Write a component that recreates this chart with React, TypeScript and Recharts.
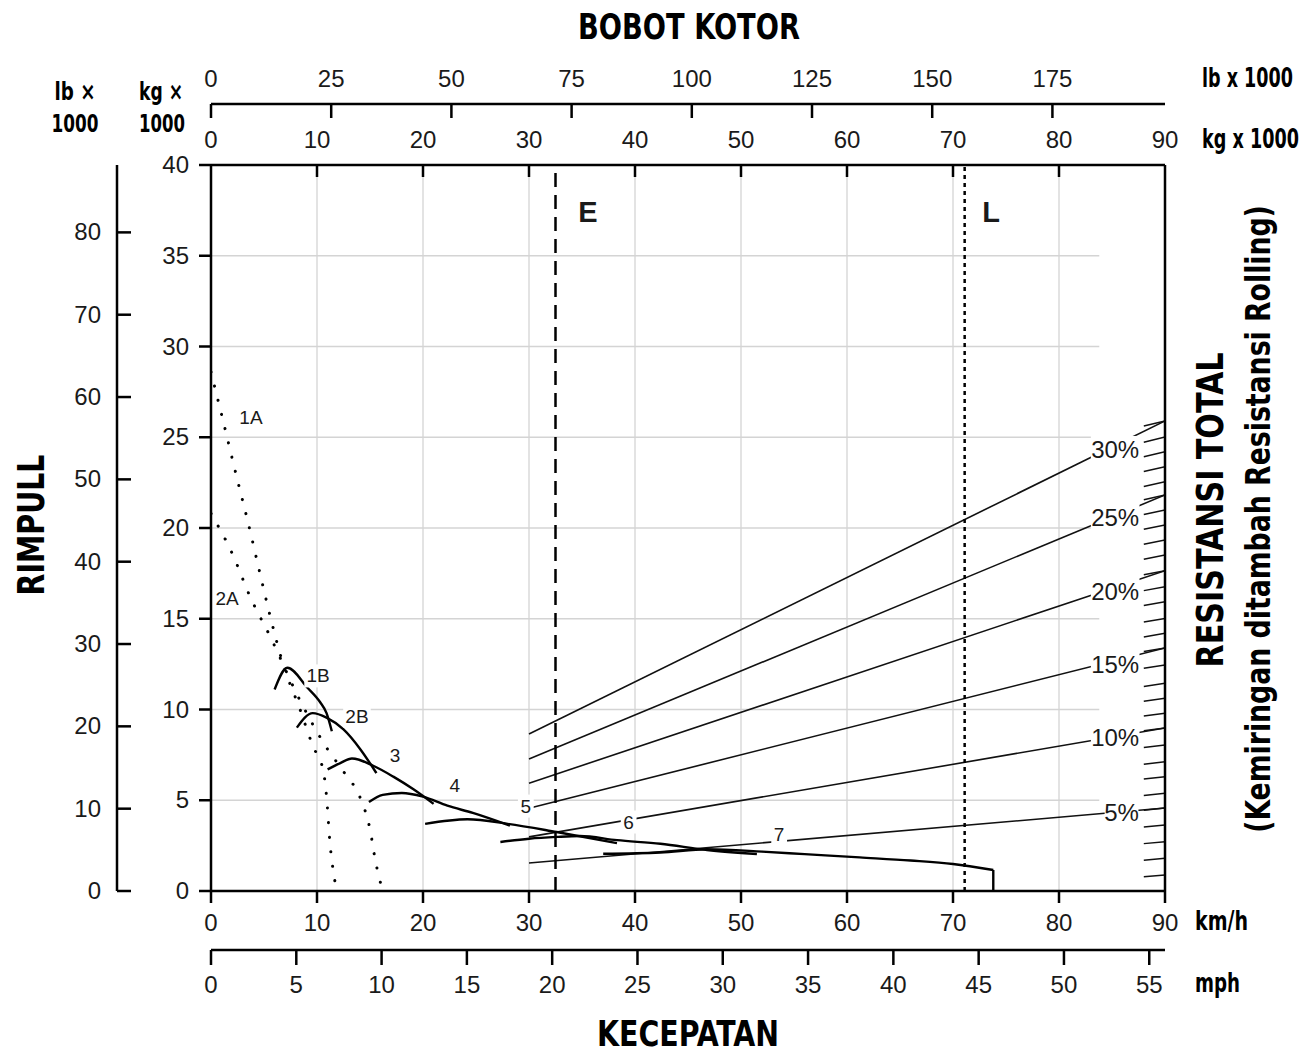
import React, { useLayoutEffect, useRef, useState } from 'react';
import { ComposedChart, Line, XAxis, YAxis, CartesianGrid, ReferenceLine, Scatter } from 'recharts';

// ---------- axis ticks ----------
const kmhTicks = [0, 10, 20, 30, 40, 50, 60, 70, 80, 90];
const mphTicks = [0, 5, 10, 15, 20, 25, 30, 35, 40, 45, 50, 55];
const kgTopTicks = [0, 10, 20, 30, 40, 50, 60, 70, 80, 90];
const lbTopTicks = [0, 25, 50, 75, 100, 125, 150, 175];
const kgTicks = [0, 5, 10, 15, 20, 25, 30, 35, 40];
const lbTicks = [0, 10, 20, 30, 40, 50, 60, 70, 80];
const gridYValues = [5, 10, 15, 20, 25, 30, 35];
const gridYEnd = 83.8;

// ---------- rimpull curves (x = km/h, y = kg x 1000) ----------
const gear1A = [
  { x: 0, y: 28.6 }, { x: 1.1, y: 26.0 }, { x: 2.45, y: 22.75 }, { x: 3.5, y: 20.3 },
  { x: 4.5, y: 17.8 }, { x: 5.6, y: 15.1 }, { x: 6.8, y: 12.5 }, { x: 8.4, y: 10.0 },
  { x: 9.6, y: 8.0 }, { x: 10.6, y: 6.6 }, { x: 10.9, y: 5.2 }, { x: 11.2, y: 2.8 },
  { x: 11.7, y: 0.5 },
];
const gear2A = [
  { x: 0, y: 20.8 }, { x: 2.0, y: 18.6 }, { x: 3.7, y: 16.2 }, { x: 5.6, y: 14.0 },
  { x: 8.4, y: 10.5 }, { x: 10.9, y: 7.9 }, { x: 12.6, y: 6.5 }, { x: 14.1, y: 5.1 },
  { x: 15.0, y: 3.4 }, { x: 15.5, y: 1.7 }, { x: 16.1, y: 0.2 },
];
const gear1B = [
  { x: 6.0, y: 11.1 }, { x: 7.2, y: 12.3 }, { x: 9.1, y: 11.2 }, { x: 10.3, y: 10.4 },
  { x: 10.9, y: 9.8 }, { x: 11.4, y: 8.8 },
];
const gear2B = [
  { x: 8.1, y: 9.0 }, { x: 9.6, y: 9.8 }, { x: 10.9, y: 9.55 }, { x: 12.5, y: 8.9 },
  { x: 14.1, y: 7.8 }, { x: 15.6, y: 6.5 },
];
const gear3 = [
  { x: 11.0, y: 6.7 }, { x: 12.2, y: 7.05 }, { x: 13.3, y: 7.3 }, { x: 15.3, y: 6.9 },
  { x: 17.2, y: 6.3 }, { x: 19.1, y: 5.6 }, { x: 21.0, y: 4.8 },
];
const gear4 = [
  { x: 14.9, y: 4.9 }, { x: 16.2, y: 5.3 }, { x: 18.0, y: 5.4 }, { x: 20.0, y: 5.2 },
  { x: 22.3, y: 4.7 }, { x: 24.7, y: 4.3 }, { x: 28.2, y: 3.6 },
];
const gear5 = [
  { x: 20.2, y: 3.7 }, { x: 24.2, y: 3.95 }, { x: 28.0, y: 3.7 }, { x: 32.6, y: 3.25 },
  { x: 38.3, y: 2.64 },
];
const gear6 = [
  { x: 27.3, y: 2.7 }, { x: 30.0, y: 2.88 }, { x: 32.6, y: 2.98 }, { x: 34.8, y: 3.03 },
  { x: 38.3, y: 2.8 }, { x: 42.4, y: 2.6 }, { x: 46.8, y: 2.26 }, { x: 51.5, y: 2.04 },
];
const gear7 = [
  { x: 37.0, y: 2.05 }, { x: 42.4, y: 2.12 }, { x: 46.8, y: 2.3 }, { x: 52.0, y: 2.17 },
  { x: 56.0, y: 2.03 }, { x: 61.2, y: 1.85 }, { x: 66.0, y: 1.68 }, { x: 70.0, y: 1.49 },
  { x: 73.8, y: 1.16 },
];
const gear7Drop = [{ x: 73.8, y: 1.16 }, { x: 73.8, y: 0 }];

// ---------- total resistance lines (x = gross weight kg x 1000) ----------
const gradePercents = [30, 25, 20, 15, 10, 5];
const gradeStartWeight = 30;
const gradeEndWeight = 90;
const gradeStartValues = [8.65, 7.27, 5.94, 4.56, 2.98, 1.54];
const gradeEndValues = [25.9, 21.82, 17.65, 13.39, 8.98, 4.57];

// small 1 % ticks on the right edge (from 88 to 90 kg x 1000)
const tickStartWeight = 88;
const tickEndWeight = 90;
const resTickStart = [
  0.78, 1.7, 2.61, 3.52, 4.45, 5.26, 6.17, 6.99, 7.9, 8.83,
  9.64, 10.46, 11.27, 12.27, 13.2, 14.0, 14.82, 15.73, 16.55, 17.43,
  18.28, 19.1, 19.93, 20.74, 21.56, 22.29, 23.11, 23.92, 24.73, 25.62,
];
const resTickEnd = [
  0.88, 1.8, 2.72, 3.64, 4.57, 5.38, 6.3, 7.12, 8.04, 8.98,
  9.79, 10.62, 11.44, 12.45, 13.39, 14.2, 15.02, 15.94, 16.77, 17.65,
  18.51, 19.34, 20.17, 20.99, 21.82, 22.55, 23.38, 24.2, 25.01, 25.9,
];

// ---------- labels ----------
const gearLabels = [
  { x: 3.77, y: 26.1, text: '1A' },
  { x: 1.51, y: 16.14, text: '2A' },
  { x: 10.1, y: 11.85, text: '1B' },
  { x: 13.77, y: 9.64, text: '2B' },
  { x: 17.36, y: 7.44, text: '3' },
  { x: 23.0, y: 5.79, text: '4' },
  { x: 29.7, y: 4.68, text: '5' },
  { x: 39.4, y: 3.8, text: '6' },
  { x: 53.6, y: 3.09, text: '7' },
];
const gradeLabels = [
  { x: 85.3, y: 24.3, text: '30%' },
  { x: 85.3, y: 20.6, text: '25%' },
  { x: 85.3, y: 16.52, text: '20%' },
  { x: 85.3, y: 12.5, text: '15%' },
  { x: 85.3, y: 8.43, text: '10%' },
  { x: 85.9, y: 4.35, text: '5%' },
];
const markerLines = [
  { x: 32.5, name: 'E' },
  { x: 71.1, name: 'L' },
];
const markerLabels = [
  { x: 35.57, y: 37.4, text: 'E' },
  { x: 73.6, y: 37.4, text: 'L' },
];

const KMH_PER_MPH = 1.609344;
const LB_PER_KG = 2.20462;
const mphMax = 90 / KMH_PER_MPH;
const lbTopMax = 90 * LB_PER_KG;

// invisible anchors so the secondary axes get their scale
const mphAnchor = [{ x: 0, y: 0 }, { x: mphMax, y: 0 }];
const kgTopAnchor = [{ x: 0, y: 0 }, { x: 90, y: 0 }];
const lbTopAnchor = [{ x: 0, y: 0 }, { x: lbTopMax, y: 0 }];

const TICK_FONT = "'Liberation Sans', Arial, Helvetica, sans-serif";
const BOLD_NARROW = "'Liberation Sans Narrow', 'DejaVu Sans Condensed', 'Roboto Condensed', 'Liberation Sans', sans-serif";
const tickStyle: React.CSSProperties = { fontFamily: TICK_FONT, fontSize: 24, fill: '#1a1a1a' };
const AX = { stroke: '#000', strokeWidth: 2.5 };

const KmhTick = (p: any) => (
  <g>
    <line x1={p.x} y1={p.y} x2={p.x} y2={p.y + 12} stroke="#000" strokeWidth={2.5} />
    <text x={p.x} y={p.y + 40} textAnchor="middle" style={tickStyle}>{p.payload.value}</text>
  </g>
);
const MphTick = (p: any) => (
  <g>
    <line x1={p.x} y1={p.y} x2={p.x} y2={p.y + 15} stroke="#000" strokeWidth={2.5} />
    <text x={p.x} y={p.y + 43} textAnchor="middle" style={tickStyle}>{p.payload.value}</text>
  </g>
);
const KgTopTick = (p: any) => (
  <g>
    {p.payload.value > 0 && p.payload.value < 90 ? (
      <line x1={p.x} y1={p.y} x2={p.x} y2={p.y + 12} stroke="#000" strokeWidth={2.5} />
    ) : null}
    <text x={p.x} y={p.y - 17} textAnchor="middle" style={tickStyle}>{p.payload.value}</text>
  </g>
);
const LbTopTick = (p: any) => (
  <g>
    <line x1={p.x} y1={p.y} x2={p.x} y2={p.y + 14} stroke="#000" strokeWidth={2.5} />
    <text x={p.x} y={p.y - 17} textAnchor="middle" style={tickStyle}>{p.payload.value}</text>
  </g>
);
const KgLeftTick = (p: any) => (
  <g>
    <line x1={p.x - 12} y1={p.y} x2={p.x} y2={p.y} stroke="#000" strokeWidth={2.5} />
    <text x={p.x - 22} y={p.y + 8} textAnchor="end" style={tickStyle}>{p.payload.value}</text>
  </g>
);
const LbLeftTick = (p: any) => (
  <g>
    <line x1={p.x} y1={p.y} x2={p.x + 14} y2={p.y} stroke="#000" strokeWidth={2.5} />
    <text x={p.x - 16} y={p.y + 8} textAnchor="end" style={tickStyle}>{p.payload.value}</text>
  </g>
);

const makeLabelShape = (fontSize: number, bold: boolean, bg: boolean) => (p: any) => {
  const t: string = p.payload.text;
  const w = t.length * fontSize * 0.62 + 4;
  const h = fontSize + 4;
  return (
    <g>
      {bg ? <rect x={p.cx - w / 2} y={p.cy - h / 2} width={w} height={h} fill="#fff" /> : null}
      <text
        x={p.cx}
        y={p.cy}
        textAnchor="middle"
        dominantBaseline="central"
        style={{ fontFamily: TICK_FONT, fontSize, fontWeight: bold ? 700 : 400, fill: '#1a1a1a' }}
      >
        {t}
      </text>
    </g>
  );
};
const GearLabelShape = makeLabelShape(19, false, true);
const GradeLabelShape = makeLabelShape(24, false, true);
const MarkerLabelShape = makeLabelShape(29, true, false);

const gridSeries = gridYValues.map((v) => [{ x: 0, y: v }, { x: gridYEnd, y: v }]);
const gradeSeries = gradePercents.map((_, i) => [
  { x: gradeStartWeight, y: gradeStartValues[i] },
  { x: gradeEndWeight, y: gradeEndValues[i] },
]);
const resTickSeries = resTickEnd.map((v, i) => [
  { x: tickStartWeight, y: resTickStart[i] },
  { x: tickEndWeight, y: v },
]);

const gearSolid = [gear1B, gear2B, gear3, gear4, gear5, gear6, gear7];

const ids = { xAxisId: 'kmh', yAxisId: 'kg' };

const titleStyle = { fontFamily: BOLD_NARROW, fontWeight: 700, fill: '#000' } as const;

// bold condensed text squeezed horizontally to a measured width
function FitText(props: { x: number; y: number; width: number; fontSize: number; anchor?: string; rotate?: number; children: string }) {
  const { x, y, width, fontSize, anchor = 'middle', rotate = 0, children } = props;
  const ref = useRef<SVGTextElement>(null);
  const [s, setS] = useState(1);
  useLayoutEffect(() => {
    if (ref.current) {
      const n = ref.current.getComputedTextLength();
      if (n > 0) setS(width / n);
    }
  }, [width, children, fontSize]);
  return (
    <text
      ref={ref}
      transform={`translate(${x},${y}) rotate(${rotate}) scale(${s},1)`}
      x={0}
      y={0}
      textAnchor={anchor as any}
      fontSize={fontSize}
      style={titleStyle}
    >
      {children}
    </text>
  );
}

const hidden = { stroke: 'none', dot: false, activeDot: false, isAnimationActive: false, legendType: 'none' as const };

export default function App() {
  return (
    <div style={{ position: 'relative', width: 1296, height: 1047 }}>
      <ComposedChart width={1296} height={1047} margin={{ top: 56, right: 119, bottom: 45, left: 49 }}>
        <CartesianGrid xAxisId="kmh" yAxisId="kg" horizontal={false} stroke="#d4d4d4" strokeWidth={1.3} />
        <XAxis xAxisId="kmh" dataKey="x" type="number" orientation="bottom" domain={[0, 90]} allowDataOverflow
          ticks={kmhTicks} interval={0} height={59} tickSize={0} tickMargin={0} tickLine={false} axisLine={AX} tick={KmhTick} />
        <XAxis xAxisId="mph" dataKey="x" type="number" orientation="bottom" domain={[0, mphMax]} allowDataOverflow
          ticks={mphTicks} interval={0} height={60} tickSize={0} tickMargin={0} tickLine={false} axisLine={AX} tick={MphTick} />
        <XAxis xAxisId="kgTop" dataKey="x" type="number" orientation="top" domain={[0, 90]} allowDataOverflow
          ticks={kgTopTicks} interval={0} height={61} tickSize={0} tickMargin={0} tickLine={false} axisLine={AX} tick={KgTopTick} />
        <XAxis xAxisId="lbTop" dataKey="x" type="number" orientation="top" domain={[0, lbTopMax]} allowDataOverflow
          ticks={lbTopTicks} interval={0} height={40} tickSize={0} tickMargin={0} tickLine={false} axisLine={AX} tick={LbTopTick} />
        <YAxis yAxisId="kg" dataKey="y" type="number" orientation="left" domain={[0, 40]} allowDataOverflow
          ticks={kgTicks} interval={0} width={94} tickSize={0} tickMargin={0} tickLine={false} axisLine={AX} tick={KgLeftTick} />
        <YAxis yAxisId="lb" type="number" orientation="left" domain={[0, 40 * LB_PER_KG]} allowDataOverflow
          ticks={lbTicks} interval={0} width={60} tickSize={0} tickMargin={0} tickLine={false} axisLine={AX} tick={LbLeftTick} />
        <YAxis yAxisId="right" type="number" orientation="right" domain={[0, 40]} allowDataOverflow
          width={20} tick={false} tickLine={false} axisLine={AX} />

        <Line xAxisId="mph" yAxisId="kg" data={mphAnchor} dataKey="y" {...hidden} />
        <Line xAxisId="kgTop" yAxisId="kg" data={kgTopAnchor} dataKey="y" {...hidden} />
        <Line xAxisId="lbTop" yAxisId="kg" data={lbTopAnchor} dataKey="y" {...hidden} />

        {gridSeries.map((d, i) => (
          <Line key={'g' + i} {...ids} data={d} dataKey="y" type="linear" stroke="#d4d4d4" strokeWidth={1.3}
            dot={false} activeDot={false} isAnimationActive={false} legendType="none" />
        ))}
        {gradeSeries.map((d, i) => (
          <Line key={'gr' + i} {...ids} data={d} dataKey="y" type="linear" stroke="#111" strokeWidth={1.6}
            dot={false} activeDot={false} isAnimationActive={false} legendType="none" />
        ))}
        {resTickSeries.map((d, i) => (
          <Line key={'rt' + i} {...ids} data={d} dataKey="y" type="linear" stroke="#111" strokeWidth={1.5}
            dot={false} activeDot={false} isAnimationActive={false} legendType="none" />
        ))}
        <Line {...ids} data={gear1A} dataKey="y" type="monotone" stroke="#000" strokeWidth={3}
          strokeDasharray="0.1 14.5" strokeLinecap="round" dot={false} activeDot={false} isAnimationActive={false} />
        <Line {...ids} data={gear2A} dataKey="y" type="monotone" stroke="#000" strokeWidth={3}
          strokeDasharray="0.1 14.5" strokeLinecap="round" dot={false} activeDot={false} isAnimationActive={false} />
        {gearSolid.map((d, i) => (
          <Line key={'gs' + i} {...ids} data={d} dataKey="y" type="monotone" stroke="#000" strokeWidth={2.4}
            dot={false} activeDot={false} isAnimationActive={false} />
        ))}
        <Line {...ids} data={gear7Drop} dataKey="y" type="linear" stroke="#000" strokeWidth={2.4}
          dot={false} activeDot={false} isAnimationActive={false} />

        <ReferenceLine {...ids} x={markerLines[0].x} stroke="#000" strokeWidth={2.5} strokeDasharray="14 8" />
        <ReferenceLine {...ids} x={markerLines[1].x} stroke="#000" strokeWidth={2.5} strokeDasharray="4 4" />

        <Scatter {...ids} data={gradeLabels} dataKey="y" shape={GradeLabelShape} isAnimationActive={false} />
        <Scatter {...ids} data={gearLabels} dataKey="y" shape={GearLabelShape} isAnimationActive={false} />
        <Scatter {...ids} data={markerLabels} dataKey="y" shape={MarkerLabelShape} isAnimationActive={false} />
      </ComposedChart>

      <svg width={1312} height={1055} style={{ position: 'absolute', left: -8, top: -8, pointerEvents: 'none' }}>
        <FitText x={689} y={39} width={222} fontSize={36}>BOBOT KOTOR</FitText>
        <FitText x={688} y={1046} width={182} fontSize={36}>KECEPATAN</FitText>
        <FitText x={44} y={525} width={141} fontSize={38} rotate={-90}>RIMPULL</FitText>
        <FitText x={1223} y={510} width={315} fontSize={38} rotate={-90}>RESISTANSI TOTAL</FitText>
        <FitText x={1270} y={519} width={628} fontSize={33} rotate={-90}>(Kemiringan ditambah Resistansi Rolling)</FitText>

        <FitText x={75} y={100} width={41} fontSize={25}>lb ×</FitText>
        <FitText x={75} y={132} width={47} fontSize={25}>1000</FitText>
        <FitText x={161} y={100} width={44} fontSize={25}>kg ×</FitText>
        <FitText x={162} y={132} width={46} fontSize={25}>1000</FitText>
        <FitText x={1202} y={87} width={91} fontSize={26} anchor="start">lb x 1000</FitText>
        <FitText x={1202} y={148} width={97} fontSize={26} anchor="start">kg x 1000</FitText>
        <FitText x={1195} y={930} width={53} fontSize={26} anchor="start">km/h</FitText>
        <FitText x={1195} y={992} width={45} fontSize={26} anchor="start">mph</FitText>
      </svg>
    </div>
  );
}
